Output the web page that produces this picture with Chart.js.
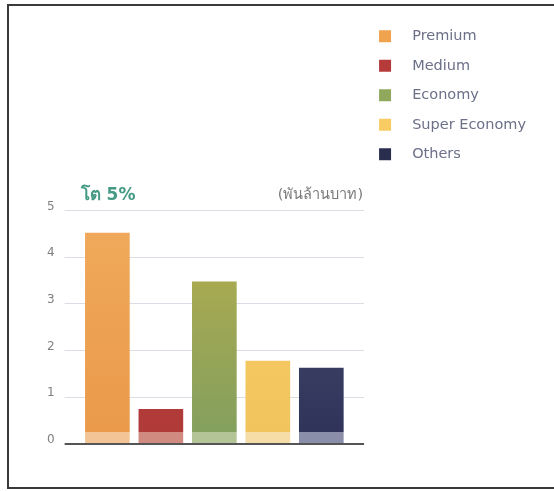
<!DOCTYPE html>
<html>
<head>
<meta charset="utf-8">
<script src="https://cdn.jsdelivr.net/npm/chart.js@4"></script>
<style>
  html, body { margin: 0; background: #fff; overflow: hidden; }
  .frame { position: absolute; left: 7px; top: 4px; width: 600px; height: 481px; border: 2px solid #3a3a3a; }
  .wrap { position: absolute; left: 0; top: 0; width: 554px; height: 491px; }
</style>
</head>
<body>
<div class="frame"></div>
<div class="wrap"><canvas id="chart"></canvas></div>
<script>
const categories = ["Premium", "Medium", "Economy", "Super Economy", "Others"];
const values = [4.52, 0.75, 3.48, 1.78, 1.63];
const yTicks = [0, 1, 2, 3, 4, 5];
const growthLabel = "โต 5%";
const unitLabel = "(พันล้านบาท)";

// bar fills: colour near the top, colour near the bottom, pale strip at the foot
const topColors = ["#f0aa5c", "#bc4440", "#b8ae4a", "#f7ce64", "#4a5074"];
const bottomColors = ["#ea9a4a", "#b03a38", "#84a05e", "#f2c45e", "#30345a"];
const bandColors = ["#f2c496", "#d18a80", "#b5c497", "#f6dca6", "#8a8ea8"];
const legendColors = ["#f0a24e", "#b53a3a", "#8fa85c", "#f8cc62", "#2a2e4e"];
const legendTextColor = "#6c7088";

Chart.defaults.font.family = '"DejaVu Sans", "Noto Sans", sans-serif';

function barFill(c) {
  const i = c.dataIndex;
  const area = c.chart.chartArea;
  if (!area) return topColors[i];
  const g = c.chart.ctx.createLinearGradient(0, area.top, 0, area.bottom);
  g.addColorStop(0, topColors[i]);
  g.addColorStop(0.948, bottomColors[i]);
  g.addColorStop(0.949, bandColors[i]);
  g.addColorStop(1, bandColors[i]);
  return g;
}

function gridColor(c) {
  return c.tick && c.tick.value === 0 ? "#555" : "#dcdde4";
}
function gridWidth(c) {
  return c.tick && c.tick.value === 0 ? 2 : 1;
}

const unitText = {
  id: "unitText",
  afterDraw(chart) {
    const { ctx, chartArea } = chart;
    ctx.save();
    ctx.font = '14.5px "DejaVu Sans", "Noto Sans", sans-serif';
    ctx.fillStyle = "#7a7a7a";
    ctx.textAlign = "right";
    ctx.textBaseline = "middle";
    ctx.fillText(unitLabel, chartArea.right + 15, chartArea.top - 15);
    ctx.restore();
  }
};

new Chart(document.getElementById("chart"), {
  type: "bar",
  data: {
    labels: categories,
    datasets: [{
      data: values,
      backgroundColor: barFill,
      borderWidth: 0,
      barPercentage: 0.835,
      categoryPercentage: 1
    }]
  },
  options: {
    responsive: true,
    maintainAspectRatio: false,
    animation: false,
    layout: { padding: { left: 37, right: 18, top: 14, bottom: 47 } },
    scales: {
      x: { display: false },
      y: {
        min: 0,
        max: 5,
        afterBuildTicks: (axis) => { axis.ticks = yTicks.map(v => ({ value: v })); },
        ticks: { color: "#808080", font: { size: 12 }, padding: 10, labelOffset: -4 },
        grid: { color: gridColor, lineWidth: gridWidth, drawTicks: true, tickLength: 16 },
        border: { display: false }
      },
      y2: {
        position: "right",
        min: 0,
        max: 5,
        afterBuildTicks: (axis) => { axis.ticks = yTicks.map(v => ({ value: v })); },
        ticks: { display: false },
        grid: { color: gridColor, lineWidth: gridWidth, drawOnChartArea: false, drawTicks: true, tickLength: 16 },
        border: { display: false }
      }
    },
    plugins: {
      title: {
        display: true,
        text: growthLabel,
        position: "top",
        align: "start",
        fullSize: false,
        color: "#449a84",
        font: { size: 17, weight: "bold" },
        padding: { top: 171, bottom: 5 }
      },
      legend: {
        position: "right",
        align: "start",
        maxWidth: 220,
        labels: {
          boxWidth: 12,
          boxHeight: 12,
          padding: 15,
          color: legendTextColor,
          font: { size: 14.5 },
          generateLabels: () => categories.map((c, i) => ({
            text: "   " + c,
            fillStyle: legendColors[i],
            strokeStyle: legendColors[i],
            fontColor: legendTextColor,
            lineWidth: 0,
            hidden: false,
            index: i
          }))
        }
      },
      tooltip: { enabled: false }
    }
  },
  plugins: [unitText]
});
</script>
</body>
</html>
